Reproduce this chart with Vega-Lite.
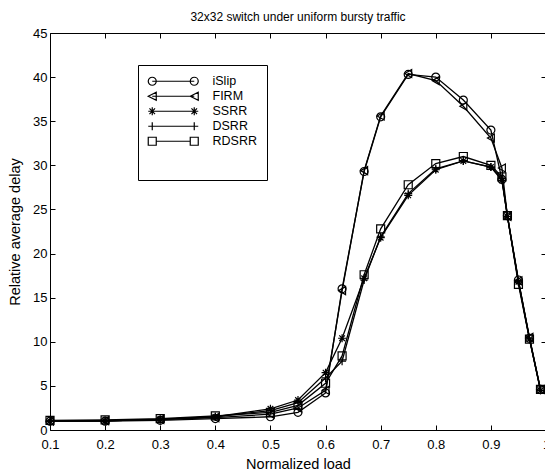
{
  "$schema": "https://vega.github.io/schema/vega-lite/v6.json",
  "autosize": "none",
  "padding": {"left": 50, "top": 33, "right": 0, "bottom": 41},
  "width": 496,
  "height": 397,
  "background": "white",
  "title": {"text": "32x32 switch under uniform bursty traffic", "font": "Liberation Sans", "fontSize": 12, "fontWeight": "normal", "color": "black", "offset": 3, "anchor": "middle", "frame": "group"},
  "config": {
    "view": {"stroke": null},
    "axis": {"domainColor": "black", "tickColor": "black", "labelColor": "black", "titleColor": "black", "labelFont": "Liberation Sans", "titleFont": "Liberation Sans", "labelFontSize": 13, "titleFontSize": 14.5, "titleFontWeight": "normal", "tickSize": -5, "grid": false, "labelFlush": false, "labelOverlap": false}
  },
  "data": {"values": [
    {"load": 0.1, "delay": 1.0, "alg": "iSlip"}, {"load": 0.2, "delay": 1.0, "alg": "iSlip"}, {"load": 0.3, "delay": 1.1, "alg": "iSlip"}, {"load": 0.4, "delay": 1.3, "alg": "iSlip"}, {"load": 0.5, "delay": 1.5, "alg": "iSlip"}, {"load": 0.55, "delay": 2.0, "alg": "iSlip"}, {"load": 0.6, "delay": 4.2, "alg": "iSlip"}, {"load": 0.63, "delay": 16.0, "alg": "iSlip"}, {"load": 0.67, "delay": 29.3, "alg": "iSlip"}, {"load": 0.7, "delay": 35.5, "alg": "iSlip"}, {"load": 0.75, "delay": 40.3, "alg": "iSlip"}, {"load": 0.8, "delay": 40.0, "alg": "iSlip"}, {"load": 0.85, "delay": 37.4, "alg": "iSlip"}, {"load": 0.9, "delay": 34.0, "alg": "iSlip"}, {"load": 0.92, "delay": 28.4, "alg": "iSlip"}, {"load": 0.93, "delay": 24.3, "alg": "iSlip"}, {"load": 0.95, "delay": 17.0, "alg": "iSlip"}, {"load": 0.97, "delay": 10.4, "alg": "iSlip"}, {"load": 0.99, "delay": 4.6, "alg": "iSlip"},
    {"load": 0.1, "delay": 1.0, "alg": "FIRM"}, {"load": 0.2, "delay": 1.05, "alg": "FIRM"}, {"load": 0.3, "delay": 1.2, "alg": "FIRM"}, {"load": 0.4, "delay": 1.4, "alg": "FIRM"}, {"load": 0.5, "delay": 1.8, "alg": "FIRM"}, {"load": 0.55, "delay": 2.5, "alg": "FIRM"}, {"load": 0.6, "delay": 4.5, "alg": "FIRM"}, {"load": 0.63, "delay": 15.8, "alg": "FIRM"}, {"load": 0.67, "delay": 29.4, "alg": "FIRM"}, {"load": 0.7, "delay": 35.6, "alg": "FIRM"}, {"load": 0.75, "delay": 40.4, "alg": "FIRM"}, {"load": 0.8, "delay": 39.6, "alg": "FIRM"}, {"load": 0.85, "delay": 36.7, "alg": "FIRM"}, {"load": 0.9, "delay": 33.1, "alg": "FIRM"}, {"load": 0.92, "delay": 29.7, "alg": "FIRM"}, {"load": 0.93, "delay": 24.2, "alg": "FIRM"}, {"load": 0.95, "delay": 16.9, "alg": "FIRM"}, {"load": 0.97, "delay": 10.5, "alg": "FIRM"}, {"load": 0.99, "delay": 4.6, "alg": "FIRM"},
    {"load": 0.1, "delay": 1.0, "alg": "SSRR"}, {"load": 0.2, "delay": 1.05, "alg": "SSRR"}, {"load": 0.3, "delay": 1.2, "alg": "SSRR"}, {"load": 0.4, "delay": 1.5, "alg": "SSRR"}, {"load": 0.5, "delay": 2.4, "alg": "SSRR"}, {"load": 0.55, "delay": 3.4, "alg": "SSRR"}, {"load": 0.6, "delay": 6.5, "alg": "SSRR"}, {"load": 0.63, "delay": 10.4, "alg": "SSRR"}, {"load": 0.67, "delay": 17.2, "alg": "SSRR"}, {"load": 0.7, "delay": 21.8, "alg": "SSRR"}, {"load": 0.75, "delay": 26.6, "alg": "SSRR"}, {"load": 0.8, "delay": 29.5, "alg": "SSRR"}, {"load": 0.85, "delay": 30.5, "alg": "SSRR"}, {"load": 0.9, "delay": 29.8, "alg": "SSRR"}, {"load": 0.92, "delay": 28.3, "alg": "SSRR"}, {"load": 0.93, "delay": 24.2, "alg": "SSRR"}, {"load": 0.95, "delay": 16.8, "alg": "SSRR"}, {"load": 0.97, "delay": 10.3, "alg": "SSRR"}, {"load": 0.99, "delay": 4.5, "alg": "SSRR"},
    {"load": 0.1, "delay": 1.0, "alg": "DSRR"}, {"load": 0.2, "delay": 1.05, "alg": "DSRR"}, {"load": 0.3, "delay": 1.2, "alg": "DSRR"}, {"load": 0.4, "delay": 1.5, "alg": "DSRR"}, {"load": 0.5, "delay": 2.2, "alg": "DSRR"}, {"load": 0.55, "delay": 3.1, "alg": "DSRR"}, {"load": 0.6, "delay": 5.9, "alg": "DSRR"}, {"load": 0.63, "delay": 7.8, "alg": "DSRR"}, {"load": 0.67, "delay": 17.0, "alg": "DSRR"}, {"load": 0.7, "delay": 21.9, "alg": "DSRR"}, {"load": 0.75, "delay": 26.8, "alg": "DSRR"}, {"load": 0.8, "delay": 29.6, "alg": "DSRR"}, {"load": 0.85, "delay": 30.5, "alg": "DSRR"}, {"load": 0.9, "delay": 29.8, "alg": "DSRR"}, {"load": 0.92, "delay": 28.5, "alg": "DSRR"}, {"load": 0.93, "delay": 24.2, "alg": "DSRR"}, {"load": 0.95, "delay": 16.8, "alg": "DSRR"}, {"load": 0.97, "delay": 10.4, "alg": "DSRR"}, {"load": 0.99, "delay": 4.5, "alg": "DSRR"},
    {"load": 0.1, "delay": 1.1, "alg": "RDSRR"}, {"load": 0.2, "delay": 1.15, "alg": "RDSRR"}, {"load": 0.3, "delay": 1.3, "alg": "RDSRR"}, {"load": 0.4, "delay": 1.6, "alg": "RDSRR"}, {"load": 0.5, "delay": 2.0, "alg": "RDSRR"}, {"load": 0.55, "delay": 2.8, "alg": "RDSRR"}, {"load": 0.6, "delay": 5.3, "alg": "RDSRR"}, {"load": 0.63, "delay": 8.4, "alg": "RDSRR"}, {"load": 0.67, "delay": 17.6, "alg": "RDSRR"}, {"load": 0.7, "delay": 22.8, "alg": "RDSRR"}, {"load": 0.75, "delay": 27.8, "alg": "RDSRR"}, {"load": 0.8, "delay": 30.2, "alg": "RDSRR"}, {"load": 0.85, "delay": 31.0, "alg": "RDSRR"}, {"load": 0.9, "delay": 30.0, "alg": "RDSRR"}, {"load": 0.92, "delay": 28.7, "alg": "RDSRR"}, {"load": 0.93, "delay": 24.3, "alg": "RDSRR"}, {"load": 0.95, "delay": 16.5, "alg": "RDSRR"}, {"load": 0.97, "delay": 10.3, "alg": "RDSRR"}, {"load": 0.99, "delay": 4.6, "alg": "RDSRR"}
  ]},
  "layer": [
    {
      "mark": {"type": "line", "color": "black", "strokeWidth": 1.3},
      "encoding": {
        "x": {"field": "load", "type": "quantitative", "scale": {"domain": [0.1, 1.0], "nice": false, "zero": false}, "axis": {"values": [0.1, 0.2, 0.3, 0.4, 0.5, 0.6, 0.7, 0.8, 0.9, 1.0], "format": "~g", "title": "Normalized load", "labelPadding": 13, "titlePadding": 6}},
        "y": {"field": "delay", "type": "quantitative", "scale": {"domain": [0, 45], "nice": false}, "axis": {"values": [0, 5, 10, 15, 20, 25, 30, 35, 40, 45], "title": "Relative average delay", "labelPadding": 8, "titlePadding": 10}},
        "detail": {"field": "alg", "type": "nominal"}
      }
    },
    {
      "mark": {"type": "point", "filled": false, "color": "black", "strokeWidth": 1.2, "size": 64, "opacity": 1},
      "encoding": {
        "x": {"field": "load", "type": "quantitative", "axis": {"orient": "top", "labels": false, "title": null, "values": [0.1, 0.2, 0.3, 0.4, 0.5, 0.6, 0.7, 0.8, 0.9, 1.0]}},
        "y": {"field": "delay", "type": "quantitative", "axis": {"orient": "right", "labels": false, "title": null, "values": [0, 5, 10, 15, 20, 25, 30, 35, 40, 45]}},
        "shape": {"field": "alg", "type": "nominal", "legend": null,
          "scale": {"domain": ["iSlip", "FIRM", "SSRR", "DSRR", "RDSRR"], "range": ["circle", "triangle-left", "M-1,0L1,0M0,-1L0,1M-0.7,-0.7L0.7,0.7M-0.7,0.7L0.7,-0.7", "M-1,0L1,0M0,-1L0,1", "square"]}
        }
      }
    },
    {
      "transform": [{"filter": "datum.delay < 0"}],
      "mark": {"type": "point", "filled": false, "color": "black", "strokeWidth": 1.2, "size": 64, "opacity": 1},
      "encoding": {
        "shape": {"field": "alg", "type": "nominal",
          "scale": {"domain": ["iSlip", "FIRM", "SSRR", "DSRR", "RDSRR"], "range": [
            "M-0.5,0L10,0M0.5,0A1,1 0 1,1 -1.5,0A1,1 0 1,1 0.5,0M11,0A1,1 0 1,1 9,0A1,1 0 1,1 11,0",
            "M-0.5,0L10,0M-1.5,0L0.5,-1L0.5,1ZM9,0L11,-1L11,1Z",
            "M-1.5,0L11,0M-0.5,-1L-0.5,1M-1.2,-0.7L0.2,0.7M-1.2,0.7L0.2,-0.7M10,-1L10,1M9.3,-0.7L10.7,0.7M9.3,0.7L10.7,-0.7",
            "M-1.5,0L11,0M-0.5,-1L-0.5,1M10,-1L10,1",
            "M0.5,0L9,0M-1.5,-1L0.5,-1L0.5,1L-1.5,1ZM9,-1L11,-1L11,1L9,1Z"]},
          "legend": {"title": "\u00a0", "titleOrient": "bottom", "titleFontSize": 16, "titlePadding": 6, "orient": "none", "legendX": 88, "legendY": 32, "padding": 10, "strokeColor": "black", "fillColor": "white", "symbolSize": 64, "symbolStrokeColor": "black", "symbolFillColor": "transparent", "symbolStrokeWidth": 1.2, "symbolOpacity": 1, "labelOffset": 52, "labelFont": "Liberation Sans", "labelFontSize": 12.5, "labelColor": "black", "rowPadding": 1}
        }
      }
    }
  ],
  "resolve": {"scale": {"shape": "independent"}, "axis": {"x": "independent", "y": "independent"}}
}
